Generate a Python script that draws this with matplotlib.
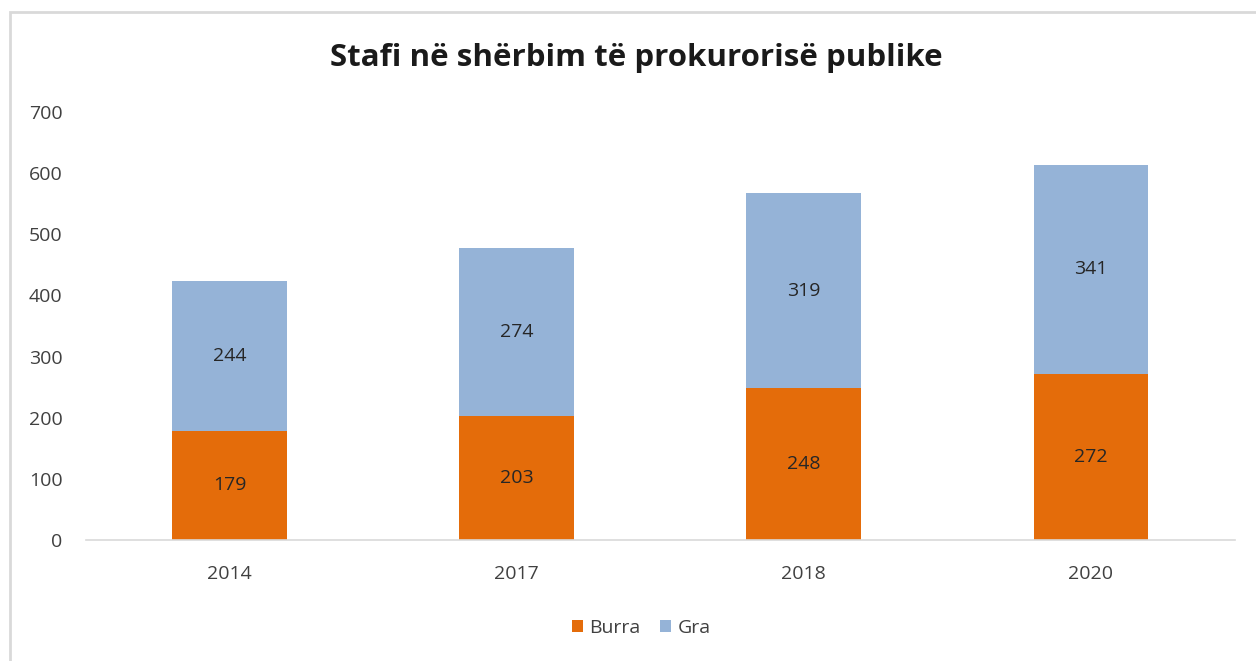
import matplotlib
matplotlib.use("Agg")
import matplotlib.pyplot as plt
from matplotlib.patches import Rectangle
import numpy as np

years = ["2014", "2017", "2018", "2020"]
burra = [179, 203, 248, 272]
gra = [244, 274, 319, 341]
title = "Stafi në shërbim të prokurorisë publike"
series_names = ["Burra", "Gra"]
yticks = [0, 100, 200, 300, 400, 500, 600, 700]

plt.rcParams['font.family'] = ['Open Sans', 'DejaVu Sans']

fig = plt.figure(figsize=(12.56, 6.61), dpi=100)
fig.patch.set_facecolor('white')
ax = fig.add_axes([86/1256, 1-540/661, (1234.5-86)/1256, (540-112)/661])

x = np.arange(len(years))
c_orange = '#E46C0A'
c_blue = '#95B3D7'
b1 = ax.bar(x, burra, width=0.4, color=c_orange, label=series_names[0])
b2 = ax.bar(x, gra, width=0.4, bottom=burra, color=c_blue, label=series_names[1])

for i in range(len(years)):
    ax.text(x[i], burra[i]/2, str(burra[i]), ha='center', va='center', fontsize=14, color='#262626')
    ax.text(x[i], burra[i] + gra[i]/2, str(gra[i]), ha='center', va='center', fontsize=14, color='#262626')

ax.set_xlim(-0.5, len(years)-0.5)
ax.set_ylim(0, 700)
ax.set_yticks(yticks)
ax.set_xticks(x)
ax.set_xticklabels(years)
ax.tick_params(axis='both', length=0, labelsize=14, labelcolor='#404040')
ax.tick_params(axis='y', pad=17)
ax.tick_params(axis='x', pad=18)
for s in ['top', 'right', 'left']:
    ax.spines[s].set_visible(False)
ax.spines['bottom'].set_color('#D9D9D9')
ax.spines['bottom'].set_linewidth(1.2)

fig.text(636/1256, 1-58/661, title, ha='center', va='center', fontsize=22.5, fontweight='bold', color='#1a1a1a')

leg = fig.legend(handles=[b1, b2], labels=series_names, loc='center', bbox_to_anchor=(641/1256, 1-628/661),
                 ncol=2, frameon=False, fontsize=14, handlelength=0.6, handleheight=0.6,
                 handletextpad=0.3, columnspacing=1.0)
for t in leg.get_texts():
    t.set_color('#404040')

fig.patches.append(Rectangle((10/1256, -0.1), 1.2, 1-12/661+0.1, transform=fig.transFigure,
                             fill=False, edgecolor='#D9D9D9', linewidth=2))

fig.savefig("out.png", dpi=100)
